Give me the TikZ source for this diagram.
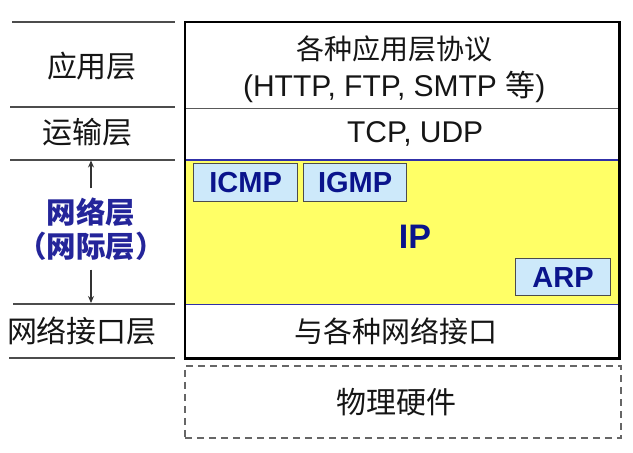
\documentclass[tikz,border=0pt]{standalone}
\usepackage{fontspec}
\setmainfont{Liberation Sans}
\newfontfamily\cjk{Noto Sans CJK SC}
\usetikzlibrary{arrows.meta}
\definecolor{txt}{HTML}{151515}
\definecolor{navy}{HTML}{24259A}
\definecolor{ipyel}{HTML}{FFFF66}
\definecolor{protofill}{HTML}{CDE9FA}
\definecolor{ipblue}{HTML}{0A148C}
\definecolor{bline}{HTML}{3030A8}
\begin{document}
\begin{tikzpicture}[x=1pt,y=-1pt,
  row/.style={minimum width=434pt, inner sep=0pt, anchor=north west},
  rowtext/.style={inner sep=0pt, text=txt, align=center, font=\fontsize{30}{37}\selectfont},
  divider/.style={draw=black!65, line width=1.2pt},
  blueline/.style={draw=bline, line width=1.6pt},
  outer/.style={draw=black, line width=2.8pt},
  leftline/.style={draw=black!70, line width=2pt},
  lbl/.style={text=txt, font=\fontsize{30}{34}\selectfont\cjk, inner sep=0pt},
  bluelbl/.style={text=navy, font=\fontsize{29.5}{34}\selectfont\cjk\bfseries, align=center, inner xsep=4pt, inner ysep=9pt},
  proto/.style={draw=black!70, line width=1.2pt, fill=protofill, anchor=north west, inner sep=0pt, text=ipblue, font=\fontsize{29}{34}\selectfont\bfseries},
  arr/.style={draw=black!80, line width=1.5pt, -{Stealth[length=7pt,width=6pt]}},
  physbox/.style={draw=black!60, dashed, dash pattern=on 7pt off 5pt, line width=1.5pt, minimum width=436pt, minimum height=72pt, anchor=north west, inner sep=0pt}
]
\useasboundingbox (0,0) rectangle (633,453);

% main stack rows
\node[row, minimum height=85pt] (app) at (185,23) {};
\node[row, minimum height=53pt] (trans) at (185,107) {};
\node[row, minimum height=144pt, fill=ipyel] (net) at (185,160) {};
\node[row, minimum height=54pt] (iface) at (185,304) {};

\node[rowtext, xshift=-8pt, yshift=-4pt] (apptxt) at (app.center) {{\fontsize{28}{37}\selectfont\cjk 各种应用层协议}\\(HTTP, FTP, SMTP {\cjk 等})};
\node[rowtext, xshift=13pt] (transtxt) at (trans.center) {TCP, UDP};
\node[rowtext, font=\fontsize{29}{34}\selectfont\cjk, xshift=-6pt] (ifacetxt) at (iface.center) {与各种网络接口};

\draw[divider] (app.south west) -- (app.south east);
\draw[blueline] (net.north west) -- (net.north east);
\draw[blueline] (net.south west) -- (net.south east);
\draw[outer] (185,22) rectangle (iface.south east);

% protocols in network layer
\node[proto, minimum width=104pt, minimum height=38pt] (icmp) at (193,163) {ICMP};
\node[proto, minimum width=103pt, minimum height=38pt] (igmp) at (303,163) {IGMP};
\node[proto, minimum width=95pt, minimum height=37pt] (arp) at (515,258) {ARP};
\node[text=ipblue, font=\fontsize{34}{40}\selectfont\bfseries, inner sep=0pt] (ip) at (415,237) {IP};

% physical hardware
\node[physbox] (phys) at (184,365) {};
\node[rowtext, font=\fontsize{30}{34}\selectfont\cjk, xshift=-6pt] (phystxt) at (phys.center) {物理硬件};

% left column
\draw[leftline] (12,22) -- (175,22);
\draw[leftline] (10,107) -- (175,107);
\draw[leftline] (10,159.5) -- (175,159.5);
\draw[leftline] (13,304) -- (175,304);
\draw[leftline] (9,358) -- (175,358);

\node[lbl] (lapp) at (92,66) {应用层};
\node[lbl] (ltrans) at (87,132) {运输层};
\node[bluelbl] (lnet) at (91,229) {网络层\\（网际层）};
\node[lbl] (liface) at (82,331) {网络接口层};

\coordinate (atop) at (91,160.5);
\coordinate (abot) at (91,303);
\draw[arr] (lnet.north) -- (atop);
\draw[arr] (lnet.south) -- (abot);
\end{tikzpicture}
\end{document}
